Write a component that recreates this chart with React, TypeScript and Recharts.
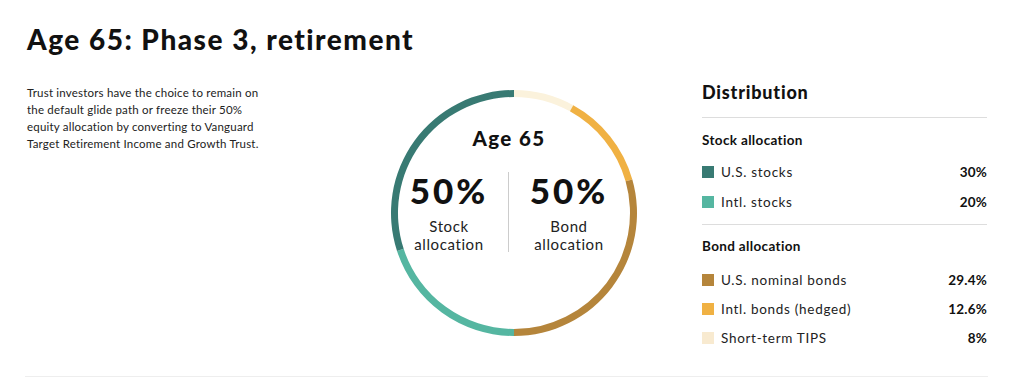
import React from "react";
import { Cell, Pie, PieChart } from "recharts";

// clockwise from 12 o'clock, as drawn on the ring
const ringLabels = ["Short-term TIPS", "Intl. bonds (hedged)", "U.S. nominal bonds", "Intl. stocks", "U.S. stocks"];
const ringValues = [8, 12.6, 29.4, 20, 30];
const ringColors = ["#fbf2dc", "#f0b143", "#b5853b", "#55b6a1", "#387a73"];

const stockLabels = ["U.S. stocks", "Intl. stocks"];
const stockValues = [30, 20];
const stockColors = ["#387a73", "#55b6a1"];

const bondLabels = ["U.S. nominal bonds", "Intl. bonds (hedged)", "Short-term TIPS"];
const bondValues = ["29.4%", "12.6%", "8%"];
const bondColors = ["#b5853b", "#f0b143", "#f8ead0"];

const introLines = [
    "Trust investors have the choice to remain on",
    "the default glide path or freeze their 50%",
    "equity allocation by converting to Vanguard",
    "Target Retirement Income and Growth Trust.",
];

const FONT = "Lato, 'Noto Sans', sans-serif";

const ringData = ringLabels.map((name, i) => ({ name, value: ringValues[i] }));

function LegendRow({ label, value, color, top }: { label: string; value: string; color: string; top: number }) {
    return (
        <div style={{ position: "absolute", left: 702, top, width: 285, height: 16, display: "flex", alignItems: "center" }}>
            <div style={{ width: 12, height: 12, background: color, marginRight: 7 }} />
            <div style={{ fontSize: 13.5, color: "#222", flex: 1, letterSpacing: 0.7 }}>{label}</div>
            <div style={{ fontSize: 13.5, fontWeight: 700, color: "#111", letterSpacing: 0.2 }}>{value}</div>
        </div>
    );
}

function Half({ left, label }: { left: number; label: string }) {
    return (
        <div style={{ position: "absolute", left, top: 170, width: 110, textAlign: "center" }}>
            <div style={{ fontSize: 35, fontWeight: 900, lineHeight: "40px", letterSpacing: 3 }}>50%</div>
            <div style={{ fontSize: 15, lineHeight: "18px", color: "#222", letterSpacing: 0.6, marginTop: 7 }}>
                {label}
                <br />
                allocation
            </div>
        </div>
    );
}

export default function App() {
    return (
        <div style={{ position: "relative", width: 1024, height: 392, margin: -8, background: "#fff", fontFamily: FONT, color: "#111" }}>
            <div style={{ position: "absolute", left: 27, top: 22, fontSize: 28, fontWeight: 900, letterSpacing: 1.5 }}>
                Age 65: Phase 3, retirement
            </div>
            <div style={{ position: "absolute", left: 27, top: 84, fontSize: 11.5, lineHeight: "17px", color: "#222", letterSpacing: 0.2 }}>
                {introLines.map((l) => (
                    <div key={l}>{l}</div>
                ))}
            </div>

            <div style={{ position: "absolute", left: 379, top: 78 }}>
                <PieChart width={260} height={260}>
                    <Pie
                        data={ringData}
                        dataKey="value"
                        cx={130}
                        cy={130}
                        innerRadius={116}
                        outerRadius={123}
                        startAngle={90}
                        endAngle={-270}
                        stroke="none"
                        isAnimationActive={false}
                    >
                        {ringData.map((d, i) => (
                            <Cell key={d.name} fill={ringColors[i]} />
                        ))}
                    </Pie>
                </PieChart>
            </div>

            <div style={{ position: "absolute", left: 449, top: 126, width: 120, textAlign: "center", fontSize: 20.5, fontWeight: 900, letterSpacing: 1.4 }}>
                Age 65
            </div>
            <div style={{ position: "absolute", left: 508, top: 172, width: 1, height: 80, background: "#ccc" }} />
            <Half left={394} label="Stock" />
            <Half left={514} label="Bond" />

            <div style={{ position: "absolute", left: 702, top: 81, fontSize: 18, fontWeight: 900, letterSpacing: 0.8 }}>Distribution</div>
            <div style={{ position: "absolute", left: 702, top: 117, width: 285, height: 1, background: "#ddd" }} />
            <div style={{ position: "absolute", left: 702, top: 132, fontSize: 13.5, fontWeight: 700, letterSpacing: 0.35 }}>Stock allocation</div>
            {stockLabels.map((l, i) => (
                <LegendRow key={l} label={l} value={`${stockValues[i]}%`} color={stockColors[i]} top={164 + i * 30} />
            ))}
            <div style={{ position: "absolute", left: 702, top: 224, width: 285, height: 1, background: "#ddd" }} />
            <div style={{ position: "absolute", left: 702, top: 238, fontSize: 13.5, fontWeight: 700, letterSpacing: 0.35 }}>Bond allocation</div>
            {bondLabels.map((l, i) => (
                <LegendRow key={l} label={l} value={bondValues[i]} color={bondColors[i]} top={272 + i * 29} />
            ))}

            <div style={{ position: "absolute", left: 25, top: 376, width: 963, height: 1, background: "#eee" }} />
        </div>
    );
}
